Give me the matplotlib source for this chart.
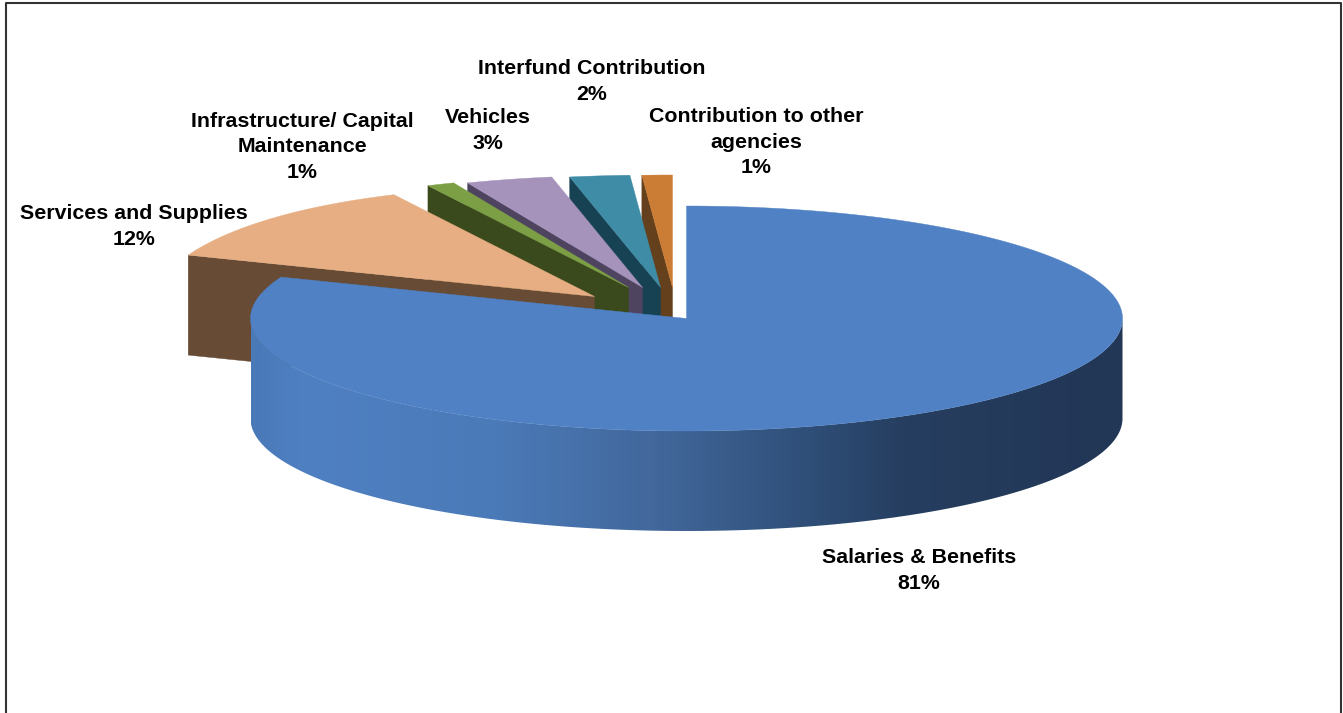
import numpy as np
import matplotlib
matplotlib.use("Agg")
import matplotlib.pyplot as plt
from matplotlib.colors import LinearSegmentedColormap
from matplotlib.patches import Polygon

categories = ["Salaries & Benefits", "Services and Supplies", "Infrastructure/ Capital\nMaintenance",
              "Vehicles", "Interfund Contribution", "Contribution to other\nagencies"]
values = [81, 12, 1, 3, 2, 1]

top_colors = ["#4F81C4", "#E6AE82", "#7C9F45", "#A593BC", "#3F8CA6", "#CC7D35"]
wall_colors = [None, "#674B35", "#3B4A1C", "#4F4460", "#174253", "#65401C"]

# pixel offset of each exploded slice from the pie centre
offsets = [(0, 0), (-92, -22), (-58, -31), (-44, -31), (-26, -31), (-14, -31)]
label_pos = [(919, 570.5), (134, 226.5), (302, 147), (488, 130.5), (592, 81.5), (756, 142)]

cx, cy = 686.5, 318.5
rx, ry = 436, 112.5
depth = 100


def arc(a0, a1, dx=0, dy=0, stretch=0.0):
    # angles in degrees, clockwise from 12 o'clock
    t = np.radians(np.linspace(a0, a1, 200))
    # stretch widens the far side of the exploded slices
    sx = 1 + stretch * np.clip(np.cos(t), 0, 1) ** 4
    return np.column_stack([cx + dx + rx * sx * np.sin(t), cy + dy - ry * np.cos(t)])


fig = plt.figure(figsize=(13.43, 7.13), dpi=100)
ax = fig.add_axes([0, 0, 1, 1])
ax.set_xlim(0, 1343)
ax.set_ylim(713, 0)
ax.axis("off")

edges = np.concatenate([[0], np.cumsum(values)]) * 360 / sum(values)

# back slices first, so each one hides the lower part of the wall behind it
for i in range(len(values) - 1, 0, -1):
    dx, dy = offsets[i]
    tip = np.array([cx + dx, cy + dy])
    pts = arc(edges[i], edges[i + 1], dx, dy, stretch=0.12)
    corner = pts[0]
    wall = [corner, tip, tip + [0, depth], corner + [0, depth]]
    ax.add_patch(Polygon(wall, closed=True, fc=wall_colors[i], ec=wall_colors[i], lw=0.3, zorder=2))
    ax.add_patch(Polygon(np.vstack([tip, pts]), closed=True, fc=top_colors[i], ec=top_colors[i], lw=0.3, zorder=2))

# rim of the big slice with a left to right shade
shade = LinearSegmentedColormap.from_list("rim", [
    (0.0, "#4A79B8"), (0.06, "#4F80C2"), (0.28, "#4B7AB8"), (0.46, "#42689C"),
    (0.63, "#30507A"), (0.75, "#263E60"), (1.0, "#223655")])
front = arc(90, 270)
rim = Polygon(np.vstack([front, (front + [0, depth])[::-1]]), closed=True, transform=ax.transData, fc="none", ec="none")
ax.add_patch(rim)
im = ax.imshow(np.linspace(0, 1, 512).reshape(1, -1), cmap=shade, aspect="auto",
               extent=(cx - rx, cx + rx, cy + ry + depth, cy), zorder=3)
im.set_clip_path(rim)
ax.set_xlim(0, 1343)
ax.set_ylim(713, 0)

big = arc(edges[0], edges[1])
ax.add_patch(Polygon(np.vstack([[cx, cy], big]), closed=True, fc=top_colors[0], ec=top_colors[0], lw=0.3, zorder=4))

for name, val, (x, y) in zip(categories, values, label_pos):
    ax.text(x, y, f"{name}\n{val}%", ha="center", va="center", fontsize=15.4, fontweight="bold",
            family="Liberation Sans", color="#000000", linespacing=1.42, zorder=5)

# frame has no bottom line
ax.plot([6, 6, 1341, 1341], [713, 3, 3, 713], color="#333333", lw=1.5, zorder=6)

fig.savefig("out.png", dpi=100)
